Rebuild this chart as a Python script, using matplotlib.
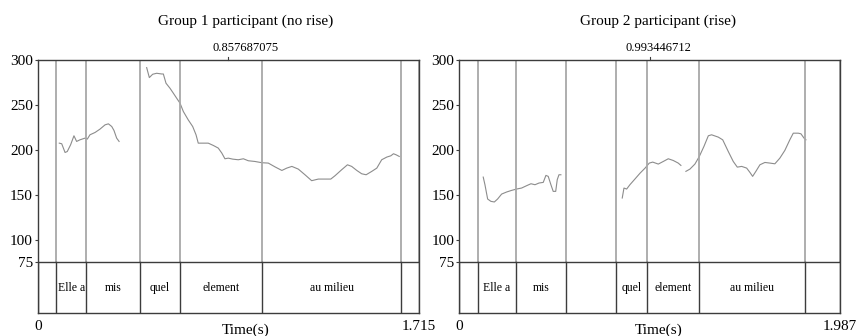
import matplotlib.pyplot as plt

plt.rcParams['font.family'] = ['Liberation Serif', 'DejaVu Serif']

# ---- Group 1 participant (no rise) ----
g1_tmax = 1.715
g1_cursor = 0.857687075
g1_bounds = [0.084, 0.217, 0.460, 0.640, 1.010, 1.633]  # limites de palabras
g1_words = ['Elle a', 'mis', 'quel', 'element', 'au milieu']
g1_t1 = [0.097, 0.108, 0.123, 0.133, 0.148, 0.163, 0.175, 0.190, 0.213, 0.223,
         0.235, 0.258, 0.280, 0.303, 0.318, 0.333, 0.343, 0.355, 0.366]
g1_f1 = [207.4, 206.7, 197.0, 198.1, 205.6, 215.6, 209.3, 211.1, 213.0, 211.9,
         216.7, 219.3, 223.0, 227.8, 228.9, 225.9, 221.5, 213.0, 209.3]
g1_t2 = [0.490, 0.502, 0.517, 0.535, 0.558, 0.565, 0.577, 0.595, 0.610, 0.625,
         0.640, 0.655, 0.677, 0.697, 0.712, 0.722, 0.745, 0.767, 0.790, 0.812,
         0.828, 0.842, 0.857, 0.877, 0.902, 0.925, 0.947, 0.977, 1.008, 1.037,
         1.067, 1.098, 1.120, 1.143, 1.172, 1.202, 1.232, 1.262, 1.292, 1.318,
         1.337, 1.367, 1.393, 1.412, 1.435, 1.457, 1.477, 1.502, 1.525, 1.547,
         1.570, 1.588, 1.600, 1.612, 1.626]
g1_f2 = [291.5, 280.4, 284.1, 285.2, 284.4, 284.4, 274.1, 268.5, 263.0, 257.4,
         251.9, 242.6, 233.3, 225.9, 216.7, 207.4, 207.4, 207.4, 204.8, 201.9,
         196.3, 190.0, 190.7, 189.6, 188.9, 190.0, 187.8, 187.0, 185.6, 185.2,
         181.0, 177.0, 179.6, 181.5, 178.5, 172.2, 165.6, 167.4, 167.4, 167.4,
         171.1, 177.8, 183.3, 181.5, 177.0, 173.3, 172.2, 175.9, 179.6, 188.9,
         191.9, 193.3, 195.6, 194.4, 192.6]

# ---- Group 2 participant (rise) ----
g2_tmax = 1.987
g2_cursor = 0.993446712
g2_bounds = [0.096, 0.297, 0.555, 0.819, 0.977, 1.250, 1.804]
g2_words = ['Elle a', 'mis', '', 'quel', 'element', 'au milieu']
g2_t1 = [0.125, 0.134, 0.148, 0.165, 0.183, 0.200, 0.221, 0.247, 0.273, 0.299,
         0.325, 0.351, 0.374, 0.395, 0.416, 0.438, 0.452, 0.464, 0.478, 0.490,
         0.503, 0.511, 0.520, 0.530]
g2_f1 = [169.6, 161.1, 145.2, 142.6, 141.9, 145.2, 150.7, 153.0, 154.8, 156.3,
         157.4, 160.0, 162.2, 161.1, 163.0, 163.7, 171.5, 170.4, 161.1, 153.7,
         153.7, 166.7, 172.2, 172.2]
g2_t2 = [0.850, 0.859, 0.873, 0.890, 0.916, 0.943, 0.969, 0.991, 1.009, 1.038,
         1.064, 1.090, 1.116, 1.142, 1.156]
g2_f2 = [146.3, 157.4, 156.3, 161.1, 167.4, 174.0, 179.6, 185.2, 186.3, 184.1,
         187.0, 190.0, 188.1, 185.2, 182.6]
g2_t3 = [1.182, 1.203, 1.229, 1.252, 1.276, 1.299, 1.316, 1.351, 1.374, 1.403,
         1.429, 1.450, 1.473, 1.499, 1.516, 1.530, 1.547, 1.568, 1.594, 1.620,
         1.646, 1.672, 1.698, 1.724, 1.742, 1.768, 1.782, 1.798, 1.808]
g2_f3 = [176.0, 178.5, 184.1, 192.6, 203.7, 215.6, 216.7, 214.1, 211.1, 198.1,
         187.0, 180.7, 181.5, 179.6, 174.8, 170.4, 176.0, 183.3, 185.9, 185.2,
         184.4, 190.7, 199.3, 211.1, 218.5, 218.5, 217.8, 213.0, 211.1]

YMIN = 18.3
TIER = 75
DARK = '#3c3c3c'


def dibujarPanel(ax, titulo, segmentos, bounds, words, tmax, cursor, xc):
    ax.set_xlim(0, tmax)
    ax.set_ylim(YMIN, 300)
    for t, f in segmentos:  # contorno de F0
        ax.plot(t, f, color='#8c8c8c', lw=0.8)
    for b in bounds:  # lineas de limite (gris arriba, oscuro en el tier)
        ax.plot([b, b], [TIER, 300], color='#a8a8a8', lw=1.3)
        ax.plot([b, b], [YMIN, TIER], color=DARK, lw=1.0)
    ax.axhline(TIER, color=DARK, lw=1.0)
    for i, w in enumerate(words):  # etiquetas de palabras
        ax.text((bounds[i] + bounds[i + 1]) / 2, (TIER + YMIN) / 2, w,
                ha='center', va='center', fontsize=8.5)
    for s in ax.spines.values():
        s.set_color(DARK)
        s.set_linewidth(1.0)
    ax.set_yticks([75, 100, 150, 200, 250, 300])
    ax.tick_params(axis='y', length=2, width=0.8, pad=1.5, labelsize=11, color=DARK)
    ax.set_xticks([0, tmax])
    ax.set_xticklabels(['0', '%g' % tmax])
    ax.tick_params(axis='x', length=0, pad=5, labelsize=11)
    # marca del cursor arriba
    ax.plot([cursor, cursor], [1.0, 1.012], color=DARK, lw=0.8,
            transform=ax.get_xaxis_transform(), clip_on=False)
    ax.text(xc, 1.047, '%.9f' % cursor, transform=ax.transAxes,
            ha='center', va='center', fontsize=9)
    ax.text(xc, 1.152, titulo, transform=ax.transAxes,
            ha='center', va='center', fontsize=11)
    ax.text(xc, -0.067, 'Time(s)', transform=ax.transAxes,
            ha='center', va='center', fontsize=11)


fig = plt.figure(figsize=(8.61, 3.36), dpi=100)
ax1 = fig.add_axes([0.0438, 0.0685, 0.4429, 0.753])
ax2 = fig.add_axes([0.5334, 0.0685, 0.4425, 0.753])

dibujarPanel(ax1, 'Group 1 participant (no rise)', [(g1_t1, g1_f1), (g1_t2, g1_f2)],
             [0] + g1_bounds + [g1_tmax], [''] + g1_words + [''], g1_tmax, g1_cursor, 0.544)
dibujarPanel(ax2, 'Group 2 participant (rise)',
             [(g2_t1, g2_f1), (g2_t2, g2_f2), (g2_t3, g2_f3)],
             [0] + g2_bounds + [g2_tmax], [''] + g2_words + [''], g2_tmax, g2_cursor, 0.522)

fig.savefig('out.png', dpi=100)
